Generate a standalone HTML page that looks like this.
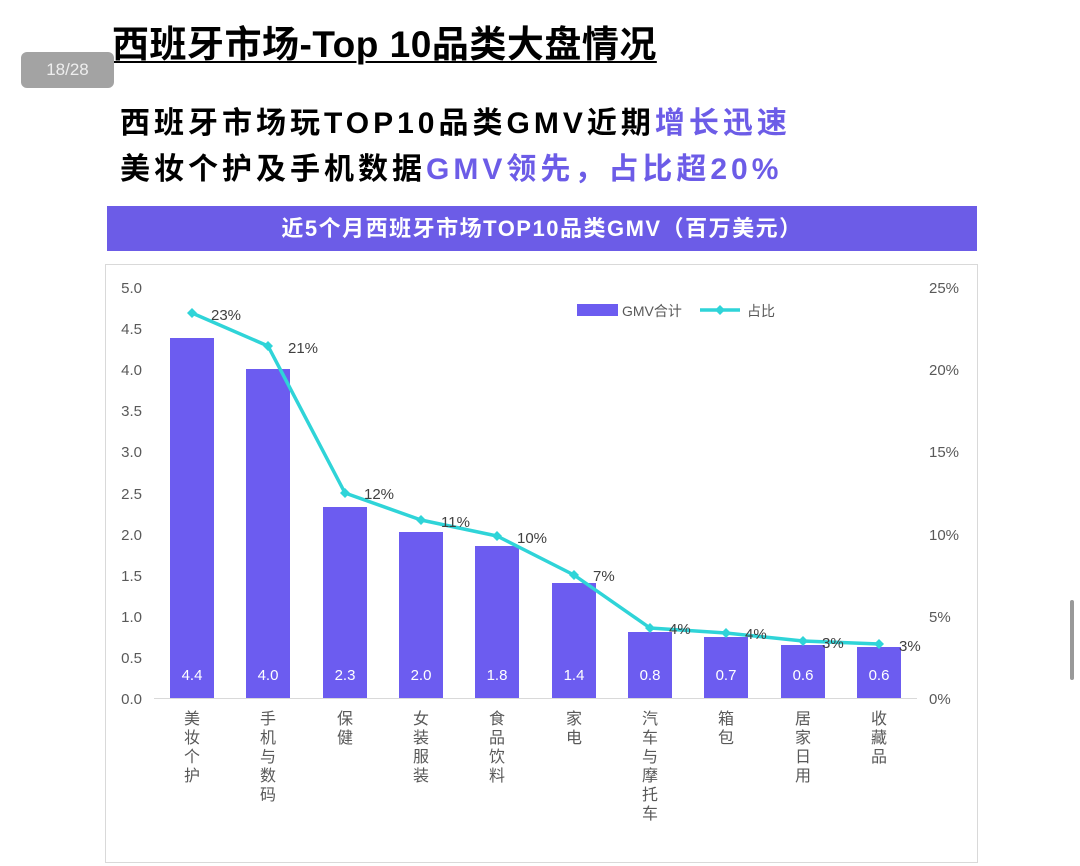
<!DOCTYPE html>
<html><head><meta charset="utf-8"><style>
body{margin:0;width:1080px;height:866px;background:#fff;overflow:hidden;position:relative;font-family:"Liberation Sans","Noto Sans CJK SC",sans-serif}
.h1{position:absolute;left:112px;top:14px;font-size:37px;font-weight:bold;color:#000;text-decoration:underline;text-decoration-thickness:2px;text-underline-offset:4px;white-space:nowrap;letter-spacing:0.5px}
.badge{position:absolute;left:21px;top:52px;width:93px;height:36px;background:#a3a3a3;border-radius:6px;color:#eee;font-size:17px;line-height:36px;text-align:center}
.sub{position:absolute;left:120px;font-size:30px;font-weight:bold;color:#000;white-space:nowrap;letter-spacing:4px}
.p{color:#6c5ce7}
.bar{position:absolute;left:107px;top:206px;width:870px;height:45px;background:#6c5ce7;color:#fff;font-size:22px;font-weight:bold;text-align:center;line-height:45px;letter-spacing:1.5px}
</style></head><body>
<div class="h1">西班牙市场-Top 10品类大盘情况</div>
<div class="badge">18/28</div>
<div class="sub" style="top:98px">西班牙市场玩TOP10品类GMV近期<span class="p">增长迅速</span></div>
<div class="sub" style="top:144px">美妆个护及手机数据<span class="p">GMV领先，占比超20%</span></div>
<div class="bar">近5个月西班牙市场TOP10品类GMV（百万美元）</div>
<svg style="position:absolute;left:0;top:0" width="1080" height="866" font-family="Liberation Sans, Noto Sans CJK SC, sans-serif">
<rect x="105.5" y="264.5" width="872" height="598" fill="none" stroke="#d9d9d9"/>
<g font-size="15" fill="#595959" text-anchor="end">
<text x="142" y="293">5.0</text><text x="142" y="334">4.5</text><text x="142" y="375">4.0</text><text x="142" y="416">3.5</text><text x="142" y="457">3.0</text><text x="142" y="499">2.5</text><text x="142" y="540">2.0</text><text x="142" y="581">1.5</text><text x="142" y="622">1.0</text><text x="142" y="663">0.5</text><text x="142" y="704">0.0</text>
</g>
<g font-size="15" fill="#595959" text-anchor="start">
<text x="929" y="293">25%</text><text x="929" y="375">20%</text><text x="929" y="457">15%</text><text x="929" y="540">10%</text><text x="929" y="622">5%</text><text x="929" y="704">0%</text>
</g>
<line x1="154" y1="698.5" x2="917" y2="698.5" stroke="#d9d9d9"/>
<g fill="#6c5cf0">
<rect x="170" y="338" width="44" height="360"/><rect x="246" y="369" width="44" height="329"/><rect x="323" y="507" width="44" height="191"/><rect x="399" y="532" width="44" height="166"/><rect x="475" y="546" width="44" height="152"/><rect x="552" y="583" width="44" height="115"/><rect x="628" y="632" width="44" height="66"/><rect x="704" y="637" width="44" height="61"/><rect x="781" y="645" width="44" height="53"/><rect x="857" y="647" width="44" height="51"/>
</g>
<g font-size="15" fill="#fff" text-anchor="middle">
<text x="192" y="680">4.4</text><text x="268" y="680">4.0</text><text x="345" y="680">2.3</text><text x="421" y="680">2.0</text><text x="497" y="680">1.8</text><text x="574" y="680">1.4</text><text x="650" y="680">0.8</text><text x="726" y="680">0.7</text><text x="803" y="680">0.6</text><text x="879" y="680">0.6</text>
</g>
<polyline points="192,313 268,346 345,493 421,520 497,536 574,575 650,628 726,633 803,641 879,644" fill="none" stroke="#2fd4d8" stroke-width="3.5" stroke-linejoin="round"/>
<g fill="#2fd4d8">
<path d="M192 308l5 5-5 5-5-5z"/><path d="M268 341l5 5-5 5-5-5z"/><path d="M345 488l5 5-5 5-5-5z"/><path d="M421 515l5 5-5 5-5-5z"/><path d="M497 531l5 5-5 5-5-5z"/><path d="M574 570l5 5-5 5-5-5z"/><path d="M650 623l5 5-5 5-5-5z"/><path d="M726 628l5 5-5 5-5-5z"/><path d="M803 636l5 5-5 5-5-5z"/><path d="M879 639l5 5-5 5-5-5z"/>
</g>
<g font-size="15" fill="#404040">
<text x="211" y="320">23%</text><text x="288" y="353">21%</text><text x="364" y="499">12%</text><text x="441" y="527">11%</text><text x="517" y="543">10%</text><text x="593" y="581">7%</text><text x="669" y="634">4%</text><text x="745" y="639">4%</text><text x="822" y="648">3%</text><text x="899" y="651">3%</text>
</g>
<rect x="577" y="304" width="41" height="12" fill="#6c5cf0"/>
<text x="622" y="316" font-size="14" fill="#595959">GMV合计</text>
<line x1="700" y1="310" x2="740" y2="310" stroke="#2fd4d8" stroke-width="3.5"/>
<path d="M720 305l5 5-5 5-5-5z" fill="#2fd4d8"/>
<text x="747" y="316" font-size="14" fill="#595959">占比</text>
<g font-size="16" fill="#595959" text-anchor="middle">
<text x="192" y="724">美</text><text x="192" y="743">妆</text><text x="192" y="762">个</text><text x="192" y="781">护</text>
<text x="268" y="724">手</text><text x="268" y="743">机</text><text x="268" y="762">与</text><text x="268" y="781">数</text><text x="268" y="800">码</text>
<text x="345" y="724">保</text><text x="345" y="743">健</text>
<text x="421" y="724">女</text><text x="421" y="743">装</text><text x="421" y="762">服</text><text x="421" y="781">装</text>
<text x="497" y="724">食</text><text x="497" y="743">品</text><text x="497" y="762">饮</text><text x="497" y="781">料</text>
<text x="574" y="724">家</text><text x="574" y="743">电</text>
<text x="650" y="724">汽</text><text x="650" y="743">车</text><text x="650" y="762">与</text><text x="650" y="781">摩</text><text x="650" y="800">托</text><text x="650" y="819">车</text>
<text x="726" y="724">箱</text><text x="726" y="743">包</text>
<text x="803" y="724">居</text><text x="803" y="743">家</text><text x="803" y="762">日</text><text x="803" y="781">用</text>
<text x="879" y="724">收</text><text x="879" y="743">藏</text><text x="879" y="762">品</text>
</g>
<rect x="1070" y="600" width="4" height="80" rx="2" fill="#999"/>
</svg>
</body></html>
